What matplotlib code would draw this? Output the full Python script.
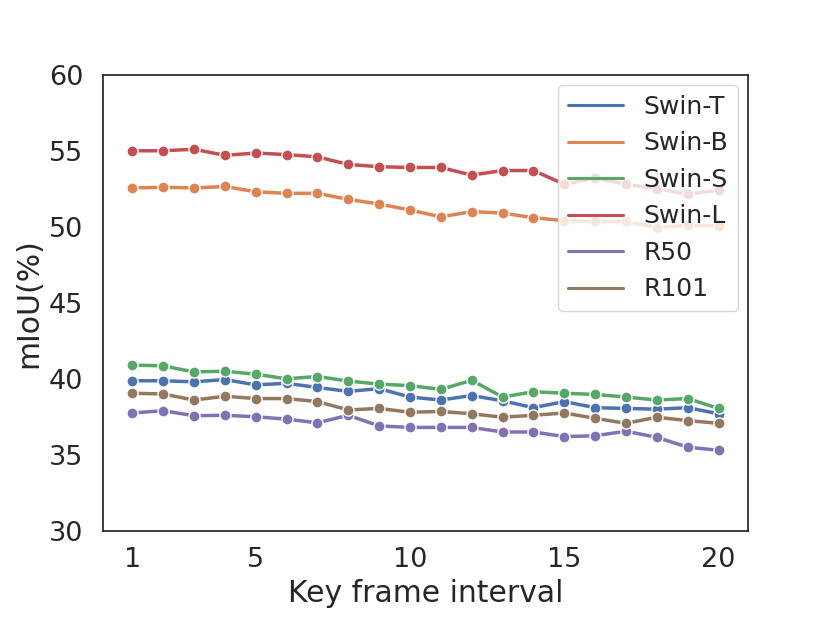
import numpy as np
import matplotlib
matplotlib.use("Agg")
import matplotlib.pyplot as plt
from matplotlib.lines import Line2D
import seaborn as sns

# key frame interval
intervals = np.arange(1, 21)

swin_t = [39.87, 39.87, 39.8, 39.95, 39.6, 39.7, 39.43, 39.17, 39.35, 38.8,
          38.6, 38.9, 38.55, 38.1, 38.5, 38.1, 38.05, 38.0, 38.1, 37.7]
swin_b = [52.55, 52.6, 52.55, 52.65, 52.3, 52.2, 52.2, 51.8, 51.5, 51.1,
          50.65, 51.0, 50.9, 50.6, 50.4, 50.35, 50.35, 49.95, 50.1, 50.05]
swin_s = [40.9, 40.85, 40.45, 40.5, 40.3, 40.0, 40.15, 39.85, 39.65, 39.55,
          39.3, 39.9, 38.8, 39.15, 39.05, 38.97, 38.8, 38.6, 38.7, 38.05]
swin_l = [55.0, 55.0, 55.1, 54.7, 54.85, 54.75, 54.6, 54.1, 53.95, 53.9,
          53.9, 53.4, 53.7, 53.7, 52.8, 53.2, 52.8, 52.5, 52.15, 52.4]
r50 = [37.75, 37.9, 37.57, 37.6, 37.5, 37.35, 37.1, 37.6, 36.9, 36.8,
       36.8, 36.8, 36.5, 36.5, 36.2, 36.25, 36.55, 36.15, 35.5, 35.3]
r101 = [39.05, 39.0, 38.6, 38.85, 38.7, 38.7, 38.5, 37.95, 38.05, 37.8,
        37.85, 37.7, 37.47, 37.6, 37.75, 37.4, 37.07, 37.47, 37.25, 37.07]

names = ["Swin-T", "Swin-B", "Swin-S", "Swin-L", "R50", "R101"]
series = [swin_t, swin_b, swin_s, swin_l, r50, r101]

sns.set_theme(style="white", font_scale=1.5)
colors = sns.color_palette("deep")

fig = plt.figure(figsize=(8.3, 6.23), dpi=100)
ax = fig.add_axes([0.124, 0.148, 0.777, 0.732])

for i, (name, vals) in enumerate(zip(names, series)):
    ax.plot(intervals, vals, color=colors[i], linewidth=2.5, marker="o",
            markersize=8, markeredgecolor="white", markeredgewidth=1.0,
            label=name)

ax.set_ylim(30, 60)
ax.set_yticks([30, 35, 40, 45, 50, 55, 60])
ax.set_xticks([1, 5, 10, 15, 20])
ax.tick_params(labelsize=19.5)
ax.tick_params(axis="y", pad=8)
ax.tick_params(axis="x", pad=6)
ax.set_xlabel("Key frame interval", fontsize=21.5, labelpad=4)
ax.set_ylabel("mIoU(%)", fontsize=21.5)

handles = [Line2D([0], [0], color=colors[i], linewidth=2.2) for i in range(len(names))]
ax.legend(handles, names, loc="upper right", fontsize=18, handlelength=2.2,
          borderaxespad=0.4)

for s in ax.spines.values():
    s.set_color("0.15")
    s.set_linewidth(1.25)

fig.savefig("out.png", dpi=100)
